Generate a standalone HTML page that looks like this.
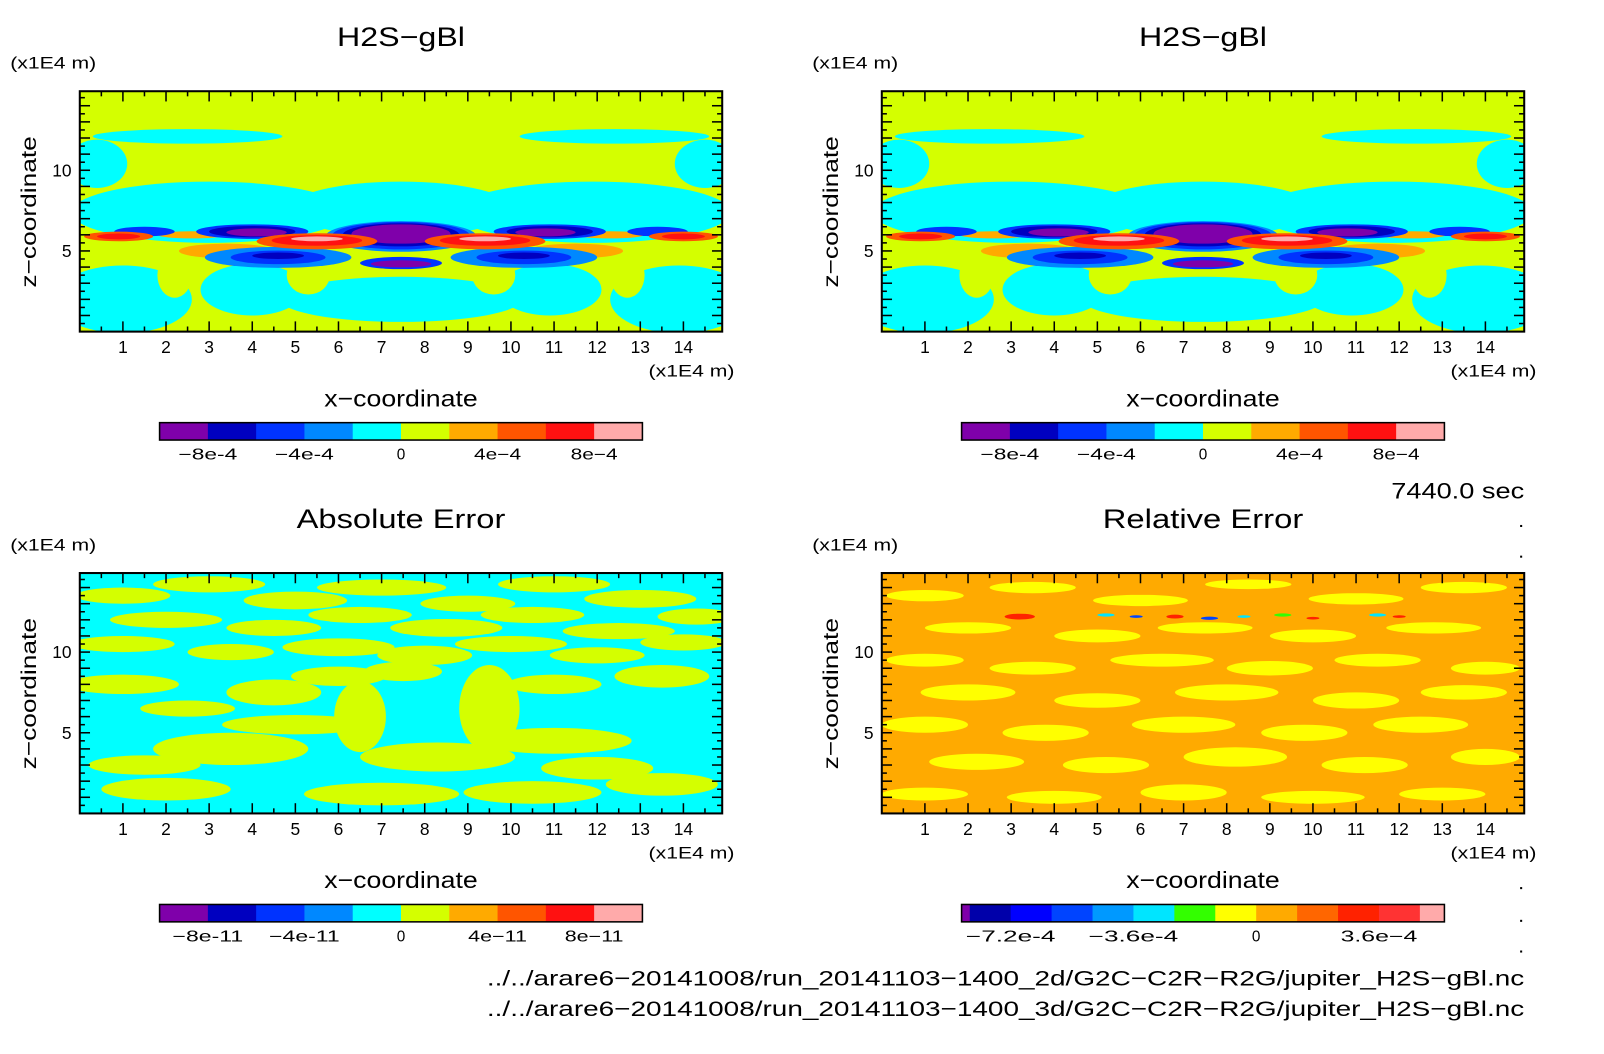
<!DOCTYPE html>
<html><head><meta charset="utf-8"><style>
html,body{margin:0;padding:0;background:#fff;}
svg{display:block;font-family:"Liberation Sans","DejaVu Sans",sans-serif;}
</style></head><body>
<svg id="root" width="1604" height="1054" viewBox="0 0 1568 1030" xmlns="http://www.w3.org/2000/svg">
<rect width="1568" height="1030" fill="#fff"/>
</svg>
<script>
// ---------- data ----------
const xTicks = [1,2,3,4,5,6,7,8,9,10,11,12,13,14];
const yTicks = [5,10];
const domainMax = 14.9;
const mainColors = ["#7f00aa","#0000c0","#0033ff","#0088ff","#00ffff","#d4ff00","#ffaa00","#ff5500","#ff1111","#ffaaaa"];
const mainCbLabels = ["-8e-4","-4e-4","0","4e-4","8e-4"];
const mainCbLabelIdx = [1,3,5,7,9];
const absCbLabels = ["-8e-11","-4e-11","0","4e-11","8e-11"];
const relColors = ["#7f00aa","#0000aa","#0000ff","#0044ff","#0099ff","#00e5ff","#33ff00","#ffff00","#ffaa00","#ff6600","#ff2200","#ff3333","#ffaaaa"];
const relWidths = [0.2,1,1,1,1,1,1,1,1,1,1,1,0.6];
const relCbLabels = ["-7.2e-4","-3.6e-4","0","3.6e-4"];
const relCbLabelIdx = [2,5,8,11];
// field blobs: [cx, cz, rx, rz, level]
const h2sBase = 5;
const h2sBlobs = [
 [3,7.4,3.2,1.9,4],[11.9,7.4,3.2,1.9,4],[7.45,7.6,2.6,1.7,4],
 [1,2,1.6,2.1,4],[13.9,2,1.6,2.1,4],[7.45,2,2.8,1.4,4],[4,2.6,1.2,1.6,4],[10.9,2.6,1.2,1.6,4],
 [2.5,12.1,2.2,0.45,4],[12.4,12.1,2.2,0.45,4],[0.4,10.4,0.7,1.5,4],[14.5,10.4,0.7,1.5,4],
 [5.3,3.5,0.5,1.2,5],[9.6,3.5,0.5,1.2,5],[2.2,3.5,0.4,1.4,5],[12.7,3.5,0.4,1.4,5],
 [3.4,5.0,1.1,0.45,6],[11.5,5.0,1.1,0.45,6],[2.6,6.0,0.8,0.22,6],[12.3,6.0,0.8,0.22,6],
 [7.45,5.9,1.75,0.95,3],[7.45,5.95,1.6,0.85,2],[7.45,6.0,1.35,0.72,1],[7.45,6.05,1.15,0.6,0],
 [4,6.2,1.3,0.45,2],[4,6.2,1.0,0.35,1],[4.1,6.15,0.7,0.25,0],
 [10.9,6.2,1.3,0.45,2],[10.9,6.2,1.0,0.35,1],[10.8,6.15,0.7,0.25,0],
 [1.5,6.2,0.7,0.3,2],[13.4,6.2,0.7,0.3,2],
 [4.6,4.6,1.7,0.65,3],[4.6,4.6,1.1,0.42,2],[4.6,4.7,0.6,0.2,1],
 [10.3,4.6,1.7,0.65,3],[10.3,4.6,1.1,0.42,2],[10.3,4.7,0.6,0.2,1],
 [7.45,4.25,0.95,0.38,2],[7.45,4.2,0.7,0.22,0],
 [5.5,5.6,1.4,0.5,7],[5.5,5.65,1.05,0.33,8],[5.5,5.75,0.6,0.15,9],
 [9.4,5.6,1.4,0.5,7],[9.4,5.65,1.05,0.33,8],[9.4,5.75,0.6,0.15,9],
 [0.9,5.9,0.8,0.3,7],[0.9,5.9,0.5,0.18,8],[14,5.9,0.8,0.3,7],[14,5.9,0.5,0.18,8]
];
const absBase = 4;
const absBlobs = [
 [1,13.5,1.1,0.5,5],[3,14.2,1.3,0.5,5],[5,13.2,1.2,0.55,5],[7,14,1.5,0.5,5],[9,13,1.1,0.5,5],[11,14.2,1.3,0.5,5],[13,13.3,1.3,0.55,5],
 [2,12,1.3,0.5,5],[4.5,11.5,1.1,0.5,5],[6.5,12.3,1.2,0.5,5],[8.5,11.5,1.3,0.55,5],[10.5,12.3,1.2,0.5,5],[12.5,11.3,1.3,0.5,5],[14.3,12.2,0.9,0.5,5],
 [1,10.5,1.2,0.5,5],[3.5,10,1.0,0.5,5],[6,10.3,1.3,0.55,5],[8,9.8,1.1,0.6,5],[10,10.5,1.3,0.5,5],[12,9.8,1.1,0.5,5],[14,10.6,1.0,0.5,5],
 [4.5,7.5,1.1,0.8,5],[5,5.5,1.7,0.6,5],[3.5,4,1.8,1.0,5],[6.5,6,0.6,2.2,5],[8.3,3.5,1.8,0.9,5],[9.5,6.5,0.7,2.7,5],[11,4.5,1.8,0.8,5],
 [12,2.8,1.3,0.7,5],[1.5,3,1.3,0.6,5],[1,8,1.3,0.6,5],[13.5,8.5,1.1,0.7,5],[2,1.5,1.5,0.7,5],[7,1.2,1.8,0.7,5],[10.5,1.3,1.6,0.7,5],[13.5,1.8,1.3,0.7,5],
 [6,8.5,1.1,0.6,5],[11,8,1.1,0.6,5],[7.5,8.8,0.9,0.6,5],[2.5,6.5,1.1,0.5,5]
];
const relBase = 8;
const relBlobs = [
 [1,13.5,0.9,0.35,7],[3.5,14,1,0.35,7],[6,13.2,1.1,0.35,7],[8.5,14.2,1,0.3,7],[11,13.3,1.1,0.35,7],[13.5,14,1,0.35,7],
 [2,11.5,1,0.35,7],[5,11,1,0.4,7],[7.5,11.5,1.1,0.35,7],[10,11,1,0.4,7],[12.8,11.5,1.1,0.35,7],
 [1,9.5,0.9,0.4,7],[3.5,9,1,0.4,7],[6.5,9.5,1.2,0.4,7],[9,9,1,0.45,7],[11.5,9.5,1,0.4,7],[14,9,0.8,0.4,7],
 [2,7.5,1.1,0.5,7],[5,7,1,0.45,7],[8,7.5,1.2,0.5,7],[11,7,1,0.5,7],[13.5,7.5,1,0.45,7],
 [1,5.5,1,0.5,7],[3.8,5,1,0.5,7],[7,5.5,1.2,0.5,7],[9.8,5,1,0.5,7],[12.5,5.5,1.1,0.5,7],
 [2.2,3.2,1.1,0.5,7],[5.2,3,1,0.5,7],[8.2,3.5,1.2,0.6,7],[11.2,3,1,0.5,7],[14,3.5,0.8,0.5,7],
 [1,1.2,1,0.4,7],[4,1,1.1,0.4,7],[7,1.3,1,0.5,7],[10,1,1.2,0.4,7],[13,1.2,1,0.4,7]
];
const relSpots = [
 [3.2,12.2,0.35,0.18,10],[4.1,12.1,0.15,0.12,6],[5.2,12.3,0.2,0.1,4],[5.9,12.2,0.15,0.08,2],
 [6.8,12.2,0.2,0.12,10],[7.6,12.1,0.2,0.1,2],[8.4,12.2,0.15,0.08,4],[9.3,12.3,0.2,0.1,5],
 [10,12.1,0.15,0.08,10],[10.8,12.2,0.2,0.1,6],[11.5,12.3,0.2,0.1,4],[12,12.2,0.15,0.08,10]
];
// ---------- drawing ----------
const NS = "http://www.w3.org/2000/svg";
const root = document.getElementById("root");
function mk(tag, attrs, parent){const e=document.createElementNS(NS,tag);for(const k in attrs)e.setAttribute(k,attrs[k]);(parent||root).appendChild(e);return e;}
function txt(s, attrs, parent, len){const e=mk("text",attrs,parent);e.textContent=s;if(len){e.setAttribute("textLength",len);e.setAttribute("lengthAdjust","spacingAndGlyphs");}return e;}
let clipId=0;
function panel(fx, fy, title, titleLen, base, blobs, spots, palette, cbColors, cbWidths, cbLabels, cbIdx, cbLen){
  const W=628,H=235;
  const sx=v=>fx+v/domainMax*W, sy=v=>fy+H-v/domainMax*H;
  const g=mk("g",{});
  
  
  const t=txt(title,{x:fx+314,y:fy-44,"font-size":26,"text-anchor":"middle"},g,titleLen);
  
  
  const u=txt("(x1E4 m)",{x:fx-68,y:fy-22,"font-size":16},g,84);
  
  
  const cid="c"+(clipId++);
  const cp=mk("clipPath",{id:cid},g);mk("rect",{x:fx,y:fy,width:W,height:H},cp);
  const fg=mk("g",{"clip-path":"url(#"+cid+")"},g);
  
  
  mk("rect",{x:fx,y:fy,width:W,height:H,fill:palette[base]},fg);
  for(const b of blobs.concat(spots)){
    const e=mk("ellipse",{cx:sx(b[0]),cy:sy(b[1]),rx:b[2]/domainMax*W,ry:b[3]/domainMax*H,fill:palette[b[4]]},fg);
    
    
  }
  const fr=mk("rect",{x:fx,y:fy,width:W,height:H,fill:"none",stroke:"#000","stroke-width":2},g);
  
  
  for(let v=0.5; v<domainMax; v+=0.5){
    const maj=Math.abs(v-Math.round(v))<0.01, L=maj?10:5;
    mk("line",{x1:sx(v),x2:sx(v),y1:fy+H,y2:fy+H-L,stroke:"#000","stroke-width":1.5},g);
    mk("line",{x1:sx(v),x2:sx(v),y1:fy,y2:fy+L,stroke:"#000","stroke-width":1.5},g);
    mk("line",{x1:fx,x2:fx+L,y1:sy(v),y2:sy(v),stroke:"#000","stroke-width":1.5},g);
    mk("line",{x1:fx+W,x2:fx+W-L,y1:sy(v),y2:sy(v),stroke:"#000","stroke-width":1.5},g);
  }
  for(const v of xTicks){const l=txt(String(v),{x:sx(v),y:fy+H+21,"font-size":17,"text-anchor":"middle"},g);
    
    }
  for(const v of yTicks){const l=txt(String(v),{x:fx-8,y:sy(v)+6,"font-size":17,"text-anchor":"end"},g);
    
    }
  const xu=txt("(x1E4 m)",{x:fx+W+12,y:fy+H+44,"font-size":16,"text-anchor":"end"},g,84);
  
  
  const xt=txt("x\u2212coordinate",{x:fx+314,y:fy+H+73,"font-size":23,"text-anchor":"middle"},g,150);
  
  
  const yt=txt("z\u2212coordinate",{x:0,y:0,"font-size":21,"text-anchor":"middle",transform:"translate("+(fx-43)+","+(fy+118)+") rotate(-90)"},g,148);
  
  
  // colorbar
  const cbx=fx+78, cby=fy+H+89, cbw=472, cbh=17;
  const tot=cbWidths.reduce((a,b)=>a+b,0);
  let acc=0; const bounds=[];
  const cg=mk("g",{},g);
  
  
  cbColors.forEach((c,i)=>{const x0=cbx+acc/tot*cbw; acc+=cbWidths[i]; const x1=cbx+acc/tot*cbw; bounds.push(x0);
    const r=mk("rect",{x:x0,y:cby,width:x1-x0+0.5,height:cbh,fill:c},cg);
    
    });
  bounds.push(cbx+cbw);
  mk("rect",{x:cbx,y:cby,width:cbw,height:cbh,fill:"none",stroke:"#000","stroke-width":1.5},cg);
  cbLabels.forEach((s,i)=>{const lw=s==="0"?null:cbLen*s.length;
    const l=txt(s.replace("-","\u2212"),{x:bounds[cbIdx[i]],y:cby+36,"font-size":15,"text-anchor":"middle"},cg,lw);
    
    });
}
const ones=mainColors.map(()=>1);
panel(78,89,"H2S\u2212gBl",125,h2sBase,h2sBlobs,[],mainColors,mainColors,ones,mainCbLabels,mainCbLabelIdx,11.5);
panel(862,89,"H2S\u2212gBl",125,h2sBase,h2sBlobs,[],mainColors,mainColors,ones,mainCbLabels,mainCbLabelIdx,11.5);
panel(78,560,"Absolute Error",204,absBase,absBlobs,[],mainColors,mainColors,ones,absCbLabels,mainCbLabelIdx,11.5);
const relPal=["#7f00aa","#0000ff","#0044ff","#0099ff","#00e5ff","#33ff00","#ffaa00","#ffff00","#ffaa00","#ff6600","#ff2200"];
panel(862,560,"Relative Error",196,relBase,relBlobs,relSpots,relPal,relColors,relWidths,relCbLabels,relCbLabelIdx,12.5);
const tm=txt("7440.0 sec",{x:1490,y:487,"font-size":22,"text-anchor":"end"},null,130);


for(const y of [514,544,838,868,900,930]){mk("rect",{x:1486,y:y-1,width:2,height:2,fill:"#000"});}
const p1=txt("../../arare6\u221220141008/run_20141103\u22121400_2d/G2C\u2212C2R\u2212R2G/jupiter_H2S\u2212gBl.nc",{x:1490,y:963,"font-size":21,"text-anchor":"end"},null,1014);


const p2=txt("../../arare6\u221220141008/run_20141103\u22121400_3d/G2C\u2212C2R\u2212R2G/jupiter_H2S\u2212gBl.nc",{x:1490,y:993,"font-size":21,"text-anchor":"end"},null,1014);


</script>
</body></html>
